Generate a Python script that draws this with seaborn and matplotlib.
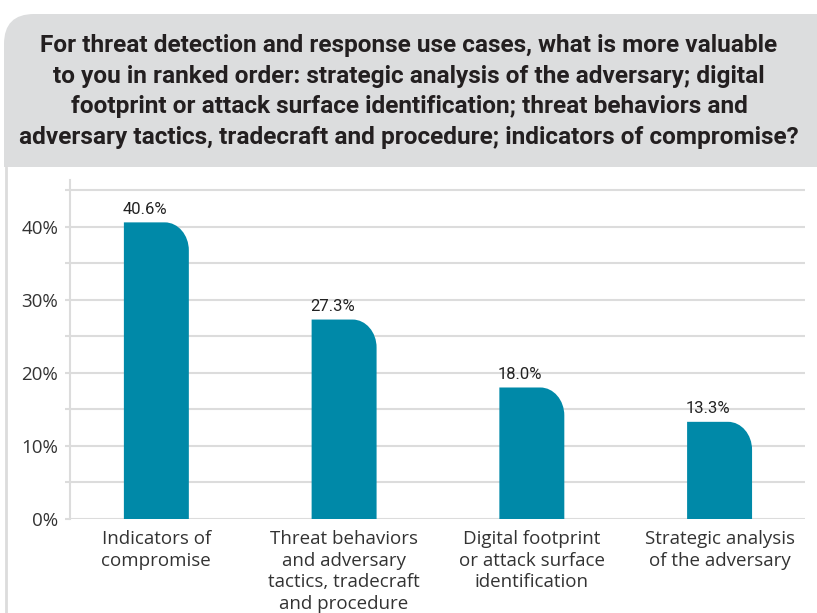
import matplotlib
matplotlib.use("Agg")
import matplotlib.pyplot as plt
import seaborn as sns
from matplotlib.patches import FancyBboxPatch, Rectangle, PathPatch
from matplotlib.path import Path
from matplotlib.lines import Line2D

# data
categories = [
    "Indicators of\ncompromise",
    "Threat behaviors\nand adversary\ntactics, tradecraft\nand procedure",
    "Digital footprint\nor attack surface\nidentification",
    "Strategic analysis\nof the adversary",
]
values = [40.6, 27.3, 18.0, 13.3]
value_labels = ["40.6%", "27.3%", "18.0%", "13.3%"]
ytick_vals = [0, 5, 10, 15, 20, 25, 30, 35, 40, 45]
ytick_labels = ["0%", "", "10%", "", "20%", "", "30%", "", "40%", ""]

title = ("For threat detection and response use cases, what is more valuable\n"
         "to you in ranked order: strategic analysis of the adversary; digital\n"
         "footprint or attack surface identification; threat behaviors and\n"
         "adversary tactics, tradecraft and procedure; indicators of compromise?")

BAR = "#0089a8"
GRID = "#dcdcdc"
HEADER = "#dcddde"
TEXT = "#333333"

sns.set_theme(style="white")
plt.rcParams['font.family'] = ['Open Sans', 'DejaVu Sans']

W, H = 817, 613
fig = plt.figure(figsize=(W / 100, H / 100), dpi=100)
px = fig.dpi_scale_trans  # inches -> 100 px

# header box (rounded top-left corner only)
hdr = FancyBboxPatch((0.04, (H - 167) / 100), 9.0, 1.53,
                     boxstyle="round,pad=0,rounding_size=0.30",
                     transform=px, facecolor=HEADER, edgecolor="none", zorder=0)
fig.patches.append(hdr)
fig.patches.append(Rectangle((0.04, (H - 167) / 100), 1.0, 0.6, transform=px,
                             facecolor=HEADER, edgecolor="none", zorder=0))
# left border of the panel
fig.lines.append(Line2D([0.06, 0.06], [0, (H - 167) / 100], transform=px,
                        color=GRID, lw=2))

fig.text(409 / W, 1 - 91.5 / H, title, ha="center", va="center",
         multialignment="center", fontsize=17.6, fontweight="bold",
         family=["Roboto", "DejaVu Sans"], color="#231f20", linespacing=1.42)

# axes: x 70..805 px, y 519 (0%) .. 180 px
ymax = 46.4
ax = fig.add_axes([70 / W, 1 - 519 / H, (805 - 70) / W, (519 - 180) / H])
sns.barplot(x=categories, y=values, color=BAR, width=0.346, ax=ax,
            saturation=1, zorder=3)
ax.set_xlim(-0.46, 3.455)
ax.set_ylim(0, ymax)

ax.set_yticks(ytick_vals)
ax.set_yticklabels(ytick_labels)
ax.yaxis.grid(True, color=GRID, lw=1.5, zorder=0)
ax.tick_params(axis="y", length=3.6, width=1.5, color=GRID, pad=5,
               labelsize=13.5, labelcolor=TEXT, left=True)
ax.tick_params(axis="x", length=0, pad=8, labelsize=13.5, labelcolor=TEXT)
for lab in ax.get_xticklabels():
    lab.set_linespacing(1.25)
ax.set_xlabel("")
ax.set_ylabel("")
for s in ["top", "right", "bottom"]:
    ax.spines[s].set_visible(False)
ax.spines["left"].set_color(GRID)
ax.spines["left"].set_linewidth(1.5)

# replace bars with rounded top-right corner versions
x_per_px = (3.455 + 0.46) / (805 - 70)
y_per_px = ymax / (519 - 180)
rx, ry = 24 * x_per_px, 28 * y_per_px
k = 0.5523
bars = list(ax.patches)
for p, lbl in zip(bars, value_labels):
    x0, y0 = p.get_x(), p.get_y()
    w, h = p.get_width(), p.get_height()
    x1, y1 = x0 + w, y0 + h
    verts = [(x0, y0), (x0, y1), (x1 - rx, y1),
             (x1 - rx * (1 - k), y1), (x1, y1 - ry * (1 - k)), (x1, y1 - ry),
             (x1, y0), (x0, y0)]
    codes = [Path.MOVETO, Path.LINETO, Path.LINETO,
             Path.CURVE4, Path.CURVE4, Path.CURVE4,
             Path.LINETO, Path.CLOSEPOLY]
    ax.add_patch(PathPatch(Path(verts, codes), facecolor=BAR,
                           edgecolor="none", zorder=3))
    p.remove()
    ax.annotate(lbl, (x0, y1), xytext=(-1, 4), textcoords="offset points",
                ha="left", va="bottom", fontsize=12, color="#222222",
                family=["Roboto", "DejaVu Sans"])

fig.savefig("out.png", dpi=100)
